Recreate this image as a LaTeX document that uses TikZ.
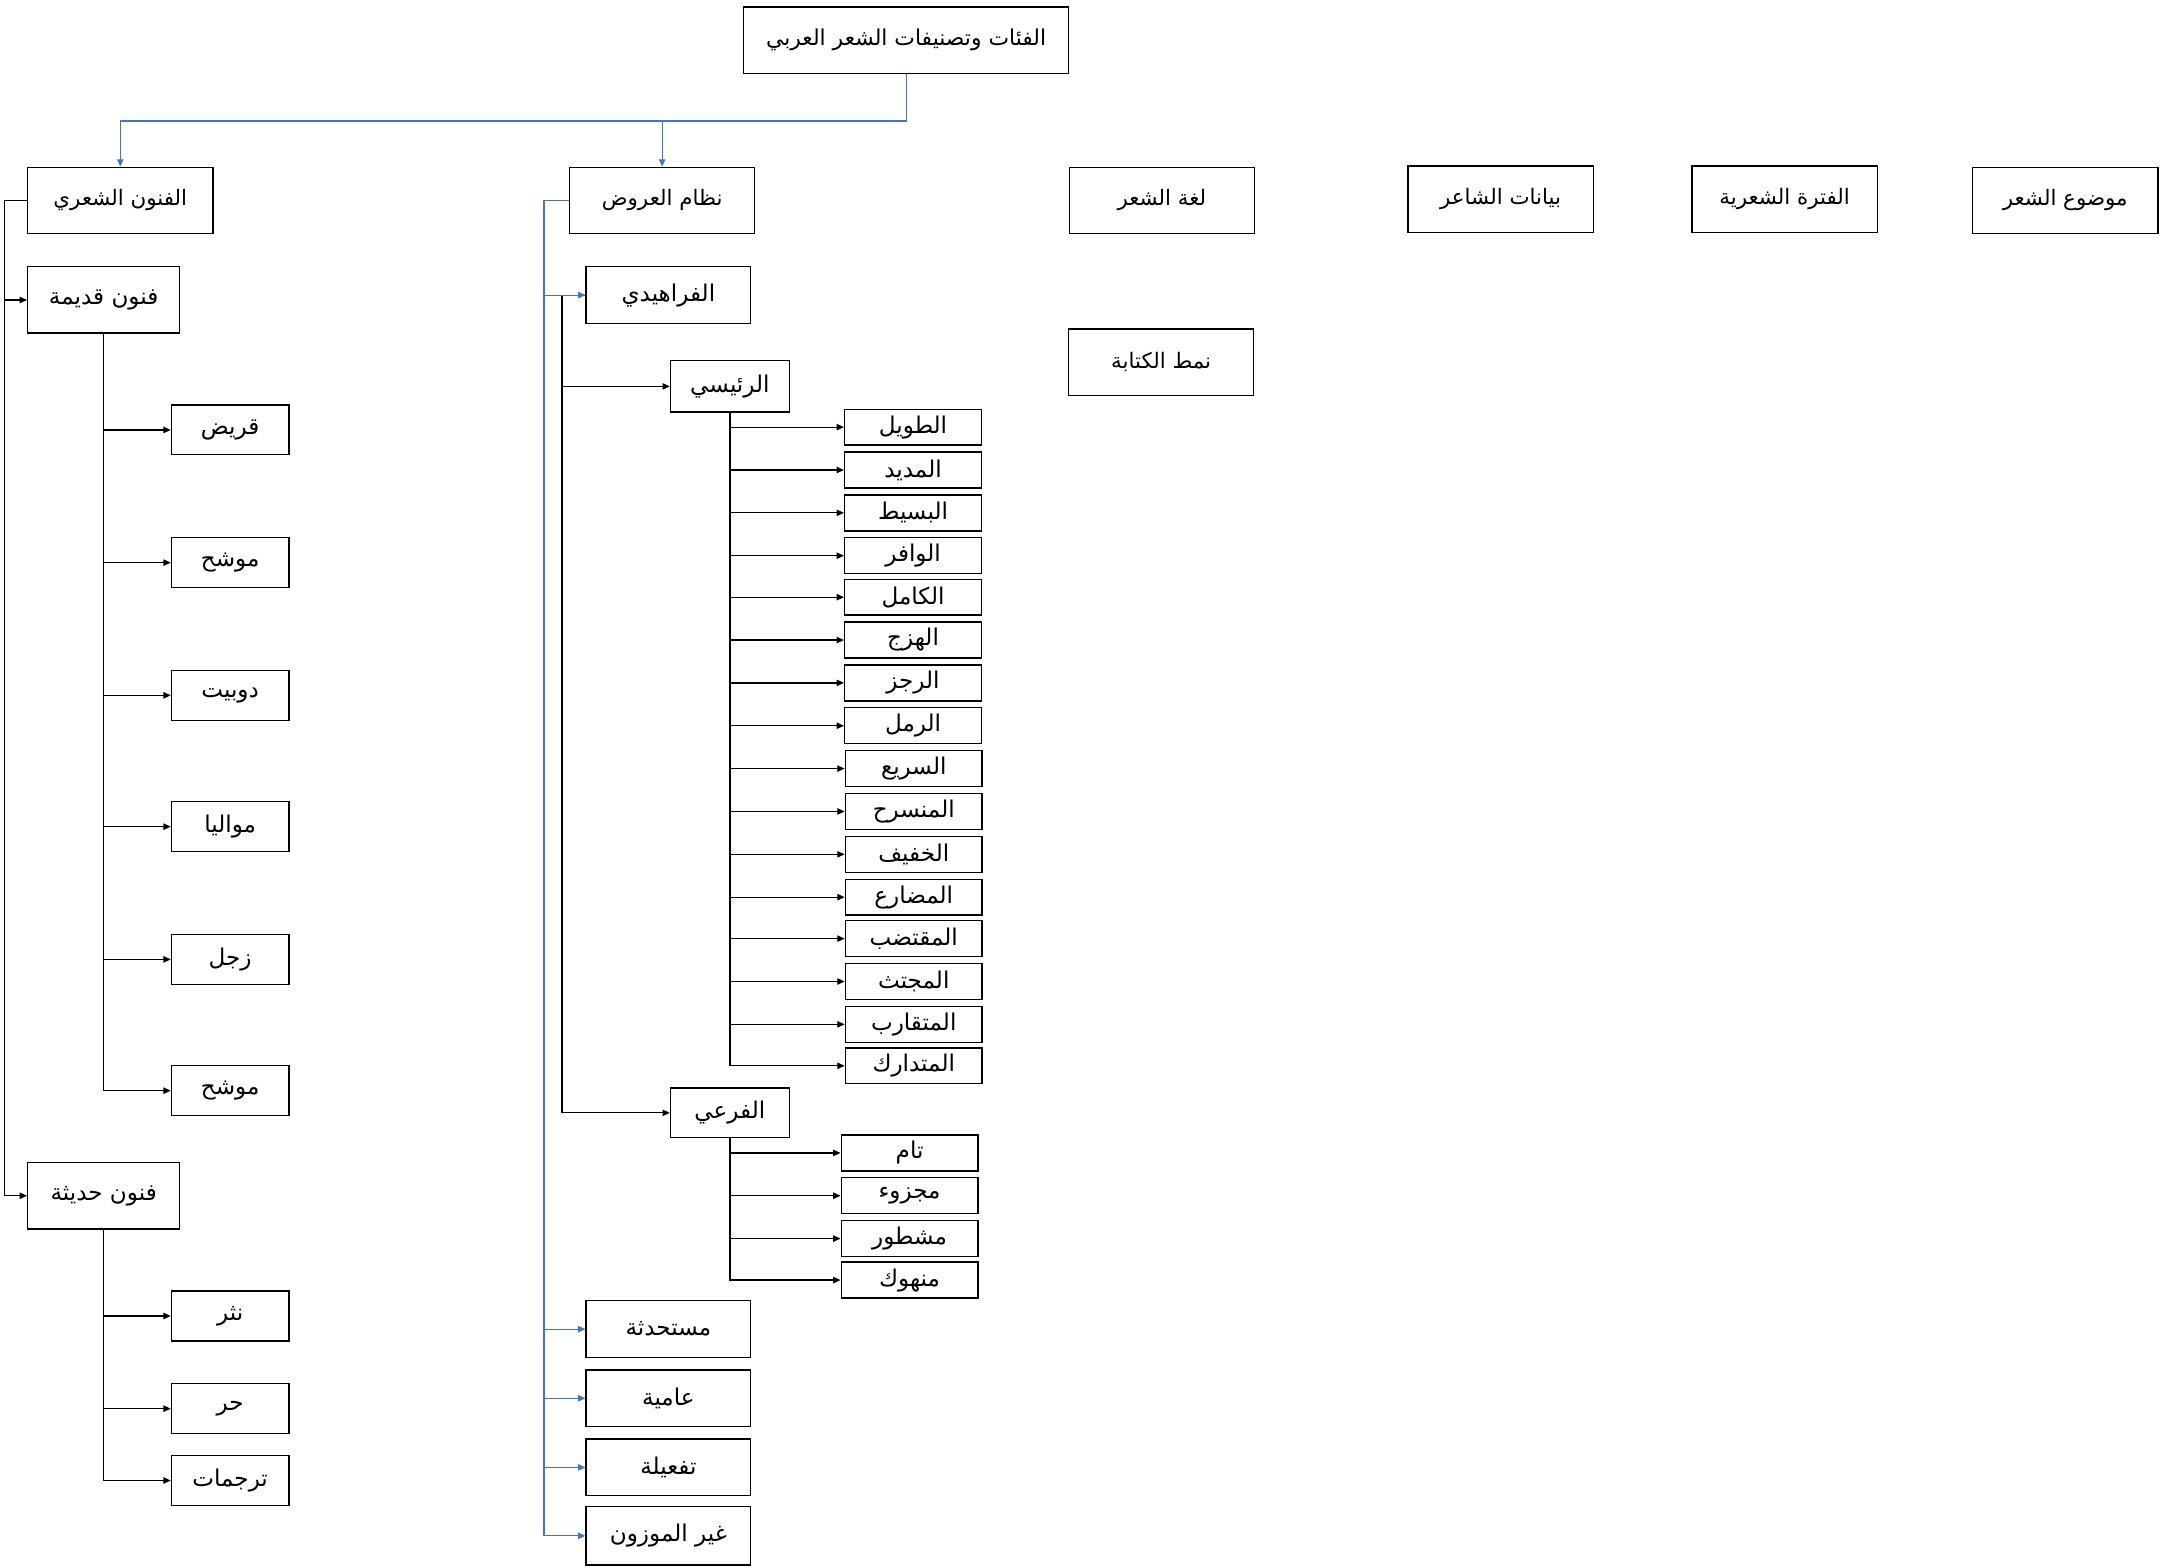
\documentclass[tikz,border=0pt]{standalone}
\usepackage{fontspec}
\newfontfamily\arabicfont[Script=Arabic]{DejaVu Sans}
\TeXXeTstate=1
\usetikzlibrary{arrows.meta}
\definecolor{linkblue}{RGB}{68,114,196}
\newcommand{\artext}[1]{{\arabicfont\beginR #1\endR}}
\begin{document}
\begin{tikzpicture}[x=0.02cm,y=-0.02cm]
\tikzstyle{every node}+=[inner sep=0pt]
\tikzstyle{box}=[draw, line width=0.55pt, rectangle, font=\fontsize{9.5}{11}\selectfont]
\tikzstyle{topbox}=[box, minimum width=2.68cm, minimum height=0.96cm, font=\fontsize{8.8}{11}\selectfont]
\tikzstyle{leaf}=[box, minimum width=1.7cm, minimum height=0.72cm]
\tikzstyle{meter}=[box, minimum width=1.98cm, minimum height=0.52cm]
\tikzstyle{kind}=[box, minimum width=2.38cm, minimum height=0.82cm]
\tikzstyle{link}=[line width=0.5pt, -{Triangle[length=3pt,width=2.6pt]}]
\tikzstyle{bluelink}=[link, linkblue]
\useasboundingbox (0,0) rectangle (1564,1133);

\draw (655.5,29) node[box, minimum width=4.7cm, minimum height=0.96cm, font=\fontsize{9}{11}\selectfont] (root) {\artext{الفئات وتصنيفات الشعر العربي}};
\draw (87,145) node[topbox] (funun) {\artext{الفنون الشعري}};
\draw (479,145) node[topbox] (arud) {\artext{نظام العروض}};
\draw (840.5,145) node[topbox] (lugha) {\artext{لغة الشعر}};
\draw (1085.5,144) node[topbox] (shaer) {\artext{بيانات الشاعر}};
\draw (1291,144) node[topbox] (fatra) {\artext{الفترة الشعرية}};
\draw (1494,145) node[topbox] (mawdu) {\artext{موضوع الشعر}};
\draw (840,262) node[topbox] (namat) {\artext{نمط الكتابة}};

\draw (75,217) node[box, minimum width=2.2cm, minimum height=0.96cm] (qadima) {\artext{فنون قديمة}};
\draw (75,865) node[box, minimum width=2.2cm, minimum height=0.96cm] (haditha) {\artext{فنون حديثة}};
\draw (166.5,311) node[leaf] (q1) {\artext{قريض}};
\draw (166.5,407) node[leaf] (q2) {\artext{موشح}};
\draw (166.5,503) node[leaf] (q3) {\artext{دوبيت}};
\draw (166.5,598) node[leaf] (q4) {\artext{مواليا}};
\draw (166.5,694) node[leaf] (q5) {\artext{زجل}};
\draw (166.5,789) node[leaf] (q6) {\artext{موشح}};
\draw (166.5,952) node[leaf] (h1) {\artext{نثر}};
\draw (166.5,1019) node[leaf] (h2) {\artext{حر}};
\draw (166.5,1071) node[leaf] (h3) {\artext{ترجمات}};

\draw (483.5,213.5) node[kind] (farahidi) {\artext{الفراهيدي}};
\draw (483.5,961.5) node[kind] (mustahdatha) {\artext{مستحدثة}};
\draw (483.5,1011.5) node[kind] (amiya) {\artext{عامية}};
\draw (483.5,1061.5) node[kind] (tafila) {\artext{تفعيلة}};
\draw (483.5,1111) node[kind, minimum height=0.84cm] (ghayr) {\artext{غير الموزون}};
\draw (528,279.5) node[box, minimum width=1.72cm, minimum height=0.74cm] (raisi) {\artext{الرئيسي}};
\draw (528,805) node[box, minimum width=1.72cm, minimum height=0.72cm] (fari) {\artext{الفرعي}};

\draw (660.5,309) node[meter] (m1) {\artext{الطويل}};
\draw (660.5,340) node[meter] (m2) {\artext{المديد}};
\draw (660.5,371) node[meter] (m3) {\artext{البسيط}};
\draw (660.5,402) node[meter] (m4) {\artext{الوافر}};
\draw (660.5,432) node[meter] (m5) {\artext{الكامل}};
\draw (660.5,463) node[meter] (m6) {\artext{الهزج}};
\draw (660.5,494) node[meter] (m7) {\artext{الرجز}};
\draw (660.5,525) node[meter] (m8) {\artext{الرمل}};
\draw (661,556) node[meter] (m9) {\artext{السريع}};
\draw (661,587) node[meter] (m10) {\artext{المنسرح}};
\draw (661,618) node[meter] (m11) {\artext{الخفيف}};
\draw (661,649) node[meter] (m12) {\artext{المضارع}};
\draw (661,679) node[meter] (m13) {\artext{المقتضب}};
\draw (661,710) node[meter] (m14) {\artext{المجتث}};
\draw (661,741) node[meter] (m15) {\artext{المتقارب}};
\draw (661,771) node[meter] (m16) {\artext{المتدارك}};
\draw (658,834) node[meter] (s1) {\artext{تام}};
\draw (658,865) node[meter] (s2) {\artext{مجزوء}};
\draw (658,896) node[meter] (s3) {\artext{مشطور}};
\draw (658,926) node[meter] (s4) {\artext{منهوك}};

\draw [bluelink] (root.south) -- ++(0,34) -| (funun.north);
\draw [bluelink] (root.south) -- ++(0,34) -| (arud.north);

\draw [link] (funun.west) -- ++(-16,0) |- (qadima.west);
\draw [link] (funun.west) -- ++(-16,0) |- (haditha.west);
\draw [link] (qadima.south) |- (q1.west);
\draw [link] (qadima.south) |- (q2.west);
\draw [link] (qadima.south) |- (q3.west);
\draw [link] (qadima.south) |- (q4.west);
\draw [link] (qadima.south) |- (q5.west);
\draw [link] (qadima.south) |- (q6.west);
\draw [link] (haditha.south) |- (h1.west);
\draw [link] (haditha.south) |- (h2.west);
\draw [link] (haditha.south) |- (h3.west);

\draw [link] (farahidi.west) -- ++(-17,0) |- (raisi.west);
\draw [link] (farahidi.west) -- ++(-17,0) |- (fari.west);
\draw [bluelink] (arud.west) -- ++(-18,0) |- (farahidi.west);
\draw [bluelink] (arud.west) -- ++(-18,0) |- (mustahdatha.west);
\draw [bluelink] (arud.west) -- ++(-18,0) |- (amiya.west);
\draw [bluelink] (arud.west) -- ++(-18,0) |- (tafila.west);
\draw [bluelink] (arud.west) -- ++(-18,0) |- (ghayr.west);

\draw [link] (raisi.south) |- (m1.west);
\draw [link] (raisi.south) |- (m2.west);
\draw [link] (raisi.south) |- (m3.west);
\draw [link] (raisi.south) |- (m4.west);
\draw [link] (raisi.south) |- (m5.west);
\draw [link] (raisi.south) |- (m6.west);
\draw [link] (raisi.south) |- (m7.west);
\draw [link] (raisi.south) |- (m8.west);
\draw [link] (raisi.south) |- (m9.west);
\draw [link] (raisi.south) |- (m10.west);
\draw [link] (raisi.south) |- (m11.west);
\draw [link] (raisi.south) |- (m12.west);
\draw [link] (raisi.south) |- (m13.west);
\draw [link] (raisi.south) |- (m14.west);
\draw [link] (raisi.south) |- (m15.west);
\draw [link] (raisi.south) |- (m16.west);
\draw [link] (fari.south) |- (s1.west);
\draw [link] (fari.south) |- (s2.west);
\draw [link] (fari.south) |- (s3.west);
\draw [link] (fari.south) |- (s4.west);
\end{tikzpicture}
\end{document}
